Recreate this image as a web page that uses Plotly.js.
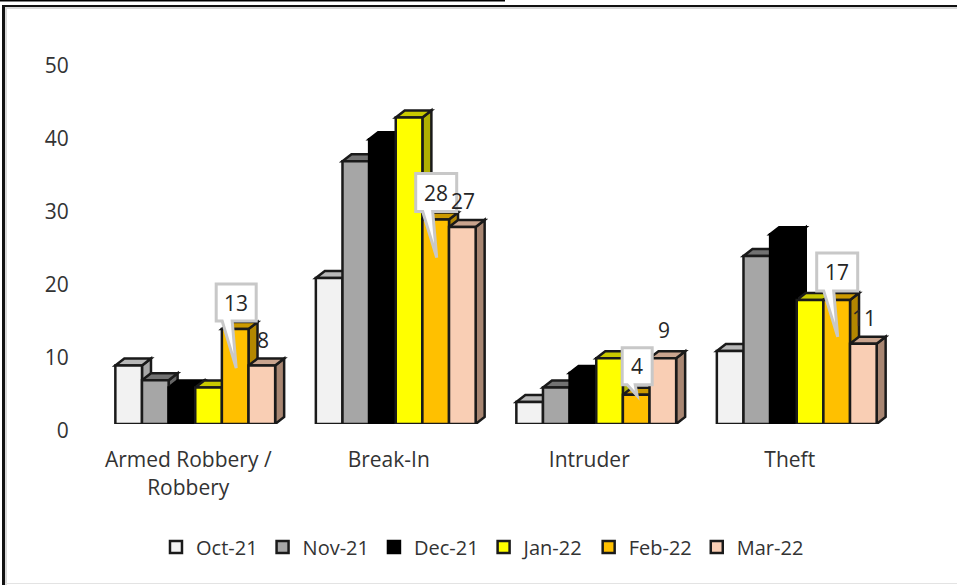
<!DOCTYPE html>
<html><head><meta charset="utf-8">
<script src="https://cdn.plot.ly/plotly-3.0.1.min.js"></script>
<style>html,body{margin:0;padding:0;background:#fff}</style></head>
<body><div id="chart" style="width:957px;height:585px"></div>
<script>
const categories = ["Armed Robbery /<br>Robbery", "Break-In", "Intruder", "Theft"];
const months = ["Oct-21","Nov-21","Dec-21","Jan-22","Feb-22","Mar-22"];
const oct21 = [8, 20, 3, 10];
const nov21 = [6, 36, 5, 23];
const dec21 = [5, 39, 7, 26];
const jan22 = [5, 42, 9, 17];
const feb22 = [13, 28, 4, 17];
const mar22 = [8, 27, 9, 11];
const yTicks = [0,10,20,30,40,50];
const frontColors = ["#f2f2f2","#a6a6a6","#000000","#ffff00","#ffc000","#f9ceb4"];
const topColors   = ["#b8b8b8","#727272","#000000","#c9c900","#cc9a00","#c9a48e"];
const sideColors  = ["#a8a8a8","#666666","#000000","#b0b000","#b38700","#a88672"];
const lineColors  = ["#1a1a1a","#1a1a1a","#000000","#1a1a1a","#1a1a1a","#1a1a1a"];
const series = [oct21,nov21,dec21,jan22,feb22,mar22];

const W=957,H=585,L=95,R=60,T=59,B=161;
const pxX=(W-L-R)/4, pxY=(H-T-B)/50;
const bargap=0.203, barW=(1-bargap)/6;
const depthX=9/pxX, depthY=7/pxY;
const barLeft=(c,s)=>c-(1-bargap)/2+s*barW;

const traces = series.map((vals,s)=>({
  type:'bar', name:months[s], x:[0,1,2,3], y:vals,
  marker:{color:frontColors[s], line:{color:lineColors[s], width:2.5}},
  hoverinfo:'skip'
}));

const shapes=[];
series.forEach((vals,s)=>vals.forEach((v,c)=>{
  const x0=barLeft(c,s), x1=x0+barW;
  const line={color:lineColors[s],width:2.5};
  shapes.push({type:'path',layer:'below',xref:'x',yref:'y',line,fillcolor:sideColors[s],
    path:`M${x1},0L${x1+depthX},${depthY}L${x1+depthX},${v+depthY}L${x1},${v}Z`});
  shapes.push({type:'path',layer:'below',xref:'x',yref:'y',line,fillcolor:topColors[s],
    path:`M${x0},${v}L${x0+depthX},${v+depthY}L${x1+depthX},${v+depthY}L${x1},${v}Z`});
}));

// callouts on the Feb-22 bars: box offset and pointer, in pixels from the bar's top centre
const febIdx=4, marIdx=5;
const callouts=[
  {c:0,box:[-19,21,8,45],tip:[1,-39],base:[-13,-3]},
  {c:1,box:[-20,21,8,46],tip:[1,-38],base:[-13,-3]},
  {c:2,box:[-14,16,10,47],tip:[1,-1],base:[-9,-1]},
  {c:3,box:[-20,21,9,47],tip:[1,-37],base:[-13,-3]}
];
callouts.forEach(k=>{
  const cx=barLeft(k.c,febIdx)+barW/2, v=feb22[k.c];
  const [l,r,b,t]=k.box;
  shapes.push({type:'path',layer:'above',xref:'x',yref:'y',xsizemode:'pixel',ysizemode:'pixel',
    xanchor:cx,yanchor:v,fillcolor:'#ffffff',line:{color:'#c8c8c8',width:3},
    path:`M${l},${b}L${l},${t}L${r},${t}L${r},${b}L${k.base[1]},${b}L${k.tip[0]},${k.tip[1]}L${k.base[0]},${b}Z`});
});

const annotations=[];
const txt={family:'Open Sans, sans-serif',size:21,color:'#262626'};
callouts.forEach(k=>{
  const [l,r,b,t]=k.box;
  annotations.push({x:barLeft(k.c,febIdx)+barW/2,y:feb22[k.c],xref:'x',yref:'y',text:String(feb22[k.c]),
    showarrow:false,font:txt,xshift:(l+r)/2,yshift:(b+t)/2});
});
const marOff=[[1,26],[1,26],[1,28],[1,26]];
mar22.forEach((v,c)=>annotations.push({x:barLeft(c,marIdx)+barW/2,y:v,xref:'x',yref:'y',text:String(v),
  showarrow:false,font:txt,xshift:marOff[c][0],yshift:marOff[c][1]}));

// frame
const frame=[
  {x0:0,x1:505,y0:0.5,y1:0.5,c:'#000',w:2},
  {x0:2,x1:957,y0:6,y1:6,c:'#111',w:2},
  {x0:3.5,x1:3.5,y0:6,y1:585,c:'#111',w:3},
  {x0:5,x1:957,y0:8,y1:8,c:'#d9d9d9',w:2},
  {x0:6,x1:6,y0:8,y1:585,c:'#d9d9d9',w:2},
  {x0:5,x1:957,y0:583.5,y1:583.5,c:'#e3e3e3',w:1}
];
frame.forEach(f=>shapes.push({type:'line',xref:'paper',yref:'paper',layer:'below',
  x0:(f.x0-L)/(W-L-R),x1:(f.x1-L)/(W-L-R),
  y0:1-(f.y0-T)/(H-T-B),y1:1-(f.y1-T)/(H-T-B),line:{color:f.c,width:f.w}}));

const layout={
  width:W,height:H,margin:{l:L,r:R,t:T,b:B},paper_bgcolor:'#fff',plot_bgcolor:'rgba(0,0,0,0)',
  barmode:'group',bargap:bargap,bargroupgap:0,
  font:{family:'Open Sans, sans-serif',size:21,color:'#333333'},
  xaxis:{range:[-0.5,3.5],tickmode:'array',tickvals:[0,1,2,3],ticktext:categories,showgrid:false,zeroline:false,showline:false,
    ticks:'outside',ticklen:17,tickcolor:'rgba(0,0,0,0)',ticklabelshift:-7,automargin:false},
  yaxis:{range:[0,50],tickmode:'array',tickvals:yTicks,showgrid:false,zeroline:false,showline:false,
    ticks:'outside',ticklen:21,tickcolor:'rgba(0,0,0,0)',ticklabelshift:7,automargin:false},
  legend:{orientation:'h',xref:'container',yref:'container',x:0.163,y:0.065,xanchor:'left',yanchor:'middle',
    font:{family:'Open Sans, sans-serif',size:20,color:'#333333'},bgcolor:'rgba(0,0,0,0)',itemclick:false,itemdoubleclick:false},
  shapes,annotations
};
Plotly.newPlot('chart',traces,layout,{displayModeBar:false,staticPlot:true});
</script></body></html>
